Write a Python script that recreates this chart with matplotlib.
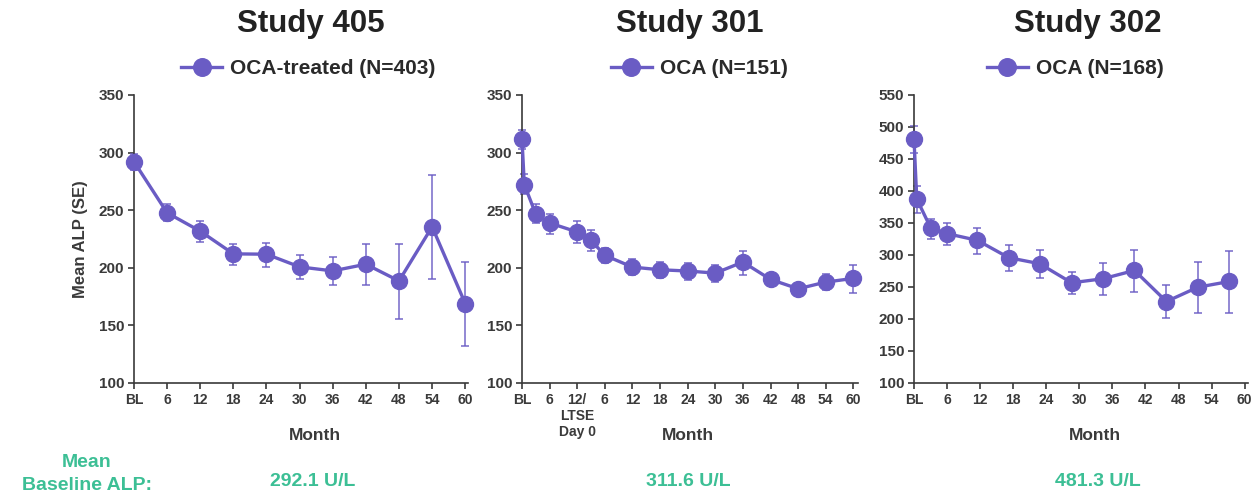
import matplotlib
matplotlib.use("Agg")
import matplotlib.pyplot as plt
import numpy as np

plt.rcParams['font.family'] = ['Liberation Sans', 'DejaVu Sans']
plt.rcParams['font.weight'] = 'bold'

PURPLE = '#6a5cc4'
DARK = '#3a3a3a'
GREEN = '#3cbf95'

# Study 405
m405 = [0, 6, 12, 18, 24, 30, 36, 42, 48, 54, 60]
v405 = [292.1, 247.7, 231.8, 212.1, 211.8, 200.8, 197.3, 203.1, 188.6, 235.6, 169.0]
hi405 = [299.0, 255.3, 240.8, 221.0, 221.7, 211.2, 209.5, 220.5, 221.0, 280.2, 205.2]
lo405 = [285.0, 240.2, 222.8, 202.0, 200.8, 190.4, 184.9, 184.9, 155.9, 190.4, 132.4]

# Study 301 (12-month double-blind, then LTSE months 6..60)
m301 = [0, 0.5, 3, 6, 12, 15, 18, 24, 30, 36, 42, 48, 54, 60, 66, 72]
v301 = [311.6, 272.3, 246.5, 238.9, 231.1, 223.8, 210.8, 200.6, 198.3, 197.2, 195.4, 205.0, 189.9, 181.8, 187.6, 190.8]
hi301 = [320.0, 281.0, 255.7, 247.0, 240.4, 232.4, 217.2, 207.6, 205.0, 204.2, 202.8, 214.6, 194.0, 185.3, 194.3, 202.8]
lo301 = [303.0, 264.0, 238.8, 229.0, 221.5, 215.0, 204.3, 193.7, 191.4, 189.0, 187.3, 194.0, 186.0, 177.4, 180.3, 178.3]
ticks301 = [0, 6, 12, 18, 24, 30, 36, 42, 48, 54, 60, 66, 72]
labels301 = ['BL', '6', '12/\nLTSE\nDay 0', '6', '12', '18', '24', '30', '36', '42', '48', '54', '60']

# Study 302
m302 = [0, 0.5, 3, 6, 11.5, 17.2, 22.8, 28.6, 34.3, 40, 45.8, 51.5, 57.2]
v302 = [481.3, 387.6, 342.8, 333.4, 322.9, 295.8, 286.4, 256.6, 262.9, 275.9, 227.3, 249.7, 258.6]
hi302 = [502.0, 407.5, 356.3, 350.0, 342.8, 316.4, 307.3, 273.6, 287.9, 308.3, 252.9, 288.9, 305.6]
lo302 = [460.0, 365.7, 325.5, 316.4, 302.0, 274.8, 263.4, 239.4, 237.8, 242.0, 201.7, 209.6, 209.6]

W, H = 1254, 495
fig = plt.figure(figsize=(W / 100, H / 100), dpi=100)


def add_panel(x0, x1, y0, y1):
    return fig.add_axes([x0 / W, 1 - y1 / H, (x1 - x0) / W, (y1 - y0) / H])


def draw(ax, x, v, hi, lo, label, ylim, yticks, xlim, xticks, xlabels):
    v = np.array(v)
    err = [v - np.array(lo), np.array(hi) - v]
    ax.errorbar(x, v, yerr=err, fmt='none', ecolor=PURPLE, elinewidth=1.2,
                capsize=3, capthick=1.2, alpha=0.85, clip_on=False, zorder=2)
    ax.plot(x, v, '-o', color=PURPLE, lw=2.4, ms=11.5, label=label,
            clip_on=False, zorder=3)
    ax.set_ylim(*ylim)
    ax.set_yticks(yticks)
    ax.set_xlim(*xlim)
    ax.set_xticks(xticks)
    ax.set_xticklabels(xlabels, fontsize=10, color=DARK, fontweight='bold',
                       linespacing=1.2)
    ax.tick_params(axis='y', labelsize=11, colors=DARK, length=4, width=1.2, pad=3)
    ax.tick_params(axis='x', colors=DARK, length=4, width=1.2, pad=3)
    for s in ['top', 'right']:
        ax.spines[s].set_visible(False)
    for s in ['left', 'bottom']:
        ax.spines[s].set_color(DARK)
        ax.spines[s].set_linewidth(1.2)


ax1 = add_panel(134, 468, 95, 383)
draw(ax1, m405, v405, hi405, lo405, 'OCA-treated (N=403)', (100, 350),
     range(100, 351, 50), (0, 60.5), m405, ['BL'] + [str(m) for m in m405[1:]])
ax1.set_ylabel('Mean ALP (SE)', fontsize=12, fontweight='bold', color=DARK, labelpad=8)

ax2 = add_panel(522, 858, 95, 383)
draw(ax2, m301, v301, hi301, lo301, 'OCA (N=151)', (100, 350),
     range(100, 351, 50), (0, 73), ticks301, labels301)

ax3 = add_panel(914, 1248, 95, 383)
draw(ax3, m302, v302, hi302, lo302, 'OCA (N=168)', (100, 550),
     range(100, 551, 50), (0, 60.6), list(range(0, 61, 6)),
     ['BL'] + [str(m) for m in range(6, 61, 6)])

titles = ['Study 405', 'Study 301', 'Study 302']
title_x = [311, 690, 1088]
legend_x = [308, 699, 1075]
month_x = [315, 688, 1095]
baseline = ['292.1 U/L', '311.6 U/L', '481.3 U/L']
base_x = [313, 688, 1098]

for ax, t, tx, lx, mx, b, bx in zip([ax1, ax2, ax3], titles, title_x, legend_x,
                                    month_x, baseline, base_x):
    fig.text(tx / W, 1 - 24 / H, t, ha='center', va='center', fontsize=22.5,
             fontweight='bold', color='#222222')
    ax.legend(loc='center', bbox_to_anchor=(lx / W, 1 - 69 / H),
              bbox_transform=fig.transFigure, frameon=False, handlelength=2.0,
              handletextpad=0.35, borderpad=0, markerscale=1.1,
              prop={'size': 15, 'weight': 'bold'}, labelcolor='#2a2a2a')
    fig.text(mx / W, 1 - 436 / H, 'Month', ha='center', va='center', fontsize=12.5,
             fontweight='bold', color=DARK)
    fig.text(bx / W, 1 - 482 / H, b, ha='center', va='center', fontsize=14,
             fontweight='bold', color=GREEN)

fig.text(87 / W, 1 - 474 / H, 'Mean\nBaseline ALP:', ha='center', va='center',
         fontsize=14, fontweight='bold', color=GREEN, linespacing=1.4)

fig.savefig('out.png', dpi=100)
